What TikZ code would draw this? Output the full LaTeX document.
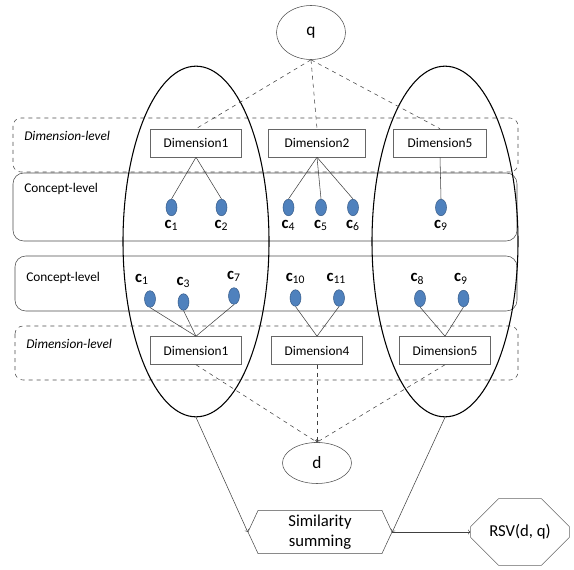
\documentclass[tikz,border=0pt]{standalone}
\usepackage{fontspec}
\setmainfont{Carlito}
\usetikzlibrary{shapes.geometric,shapes.misc,shapes.symbols}

\definecolor{conceptblue}{RGB}{79,129,189}
\definecolor{conceptedge}{RGB}{56,93,138}

\begin{document}
\begin{tikzpicture}[x=0.75pt, y=-0.75pt,
        font=\fontsize{10}{12}\selectfont,
        dimbox/.style = {draw=black!60, minimum width=68pt, minimum height=21pt, inner sep=2pt},
        concept/.style = {ellipse, draw=conceptedge, fill=conceptblue, minimum width=8.25pt, minimum height=12.4pt, inner sep=0pt},
        clab/.style = {font=\fontsize{12.5}{14}\selectfont, inner sep=1pt},
        docq/.style = {ellipse, draw=black!70, minimum width=51.75pt, minimum height=40.5pt, font=\fontsize{13}{15}\selectfont},
        bigset/.style = {ellipse, draw, thick, minimum width=109.5pt, minimum height=263pt},
        level/.style = {anchor=west, inner sep=0pt},
        link/.style = {black!75},
        match/.style = {black!75, dashed}]

    \useasboundingbox (0,0) rectangle (574,570);

    % Level frames
    \draw[black!70, dashed, rounded corners=6pt] (13,118) rectangle (518,172);
    \draw[black!70, rounded corners=8pt] (13,173) rectangle (517,241);
    \draw[black!70, rounded corners=8pt] (15,256) rectangle (517,311);
    \draw[black!70, dashed, rounded corners=6pt] (15,326) rectangle (518,380);

    \node[level] (lvlA) at (24,136) {\textit{Dimension-level}};
    \node[level] (lvlB) at (24,189) {Concept-level};
    \node[level] (lvlC) at (26,278) {Concept-level};
    \node[level] (lvlD) at (26,344) {\textit{Dimension-level}};

    % Query and document
    \node[docq] (q) at (311,32.5) {q};
    \node[docq, minimum height=30.75pt] (d) at (317,463) {d};

    % Dimensions of q
    \node[dimbox] (qdA) at (196,143) {Dimension1};
    \node[dimbox, minimum width=73pt] (qdB) at (317,143) {Dimension2};
    \node[dimbox, minimum width=70pt] (qdC) at (440,143) {Dimension5};

    % Concepts of q
    \node[concept, label={[clab, label distance=2pt]below:{\bfseries c}\textsubscript{1}}] (qc1) at (171.5,207.5) {};
    \node[concept, label={[clab, label distance=2pt]below:{\bfseries c}\textsubscript{2}}] (qc2) at (221.5,207.5) {};
    \node[concept, label={[clab, label distance=2pt]below:{\bfseries c}\textsubscript{4}}] (qc4) at (288.5,207.5) {};
    \node[concept, label={[clab, label distance=2pt]below:{\bfseries c}\textsubscript{5}}] (qc5) at (321,207.5) {};
    \node[concept, label={[clab, label distance=2pt]below:{\bfseries c}\textsubscript{6}}] (qc6) at (353,207.5) {};
    \node[concept, label={[clab, label distance=2pt]below:{\bfseries c}\textsubscript{9}}] (qc9) at (441,207.5) {};

    % Concepts of d
    \node[concept, label={[clab, label distance=3pt, xshift=-6pt]above:{\bfseries c}\textsubscript{1}}] (dc1) at (150,299) {};
    \node[concept, label={[clab, label distance=3pt]above:{\bfseries c}\textsubscript{3}}] (dc3) at (183.5,302) {};
    \node[concept, label={[clab, label distance=3pt]above:{\bfseries c}\textsubscript{7}}] (dc7) at (234,296) {};
    \node[concept, label={[clab, label distance=3pt]above:{\bfseries c}\textsubscript{10}}] (dc10) at (295.5,298) {};
    \node[concept, label={[clab, label distance=3pt, xshift=-2pt]above:{\bfseries c}\textsubscript{11}}] (dc11) at (339,298) {};
    \node[concept, label={[clab, label distance=3pt, xshift=-2pt]above:{\bfseries c}\textsubscript{8}}] (dc8) at (420,298.5) {};
    \node[concept, label={[clab, label distance=3pt, xshift=-2pt]above:{\bfseries c}\textsubscript{9}}] (dc9) at (463.5,298.5) {};

    % Dimensions of d
    \node[dimbox] (ddA) at (196,350.5) {Dimension1};
    \node[dimbox] (ddB) at (317,350.5) {Dimension4};
    \node[dimbox] (ddC) at (445,350.5) {Dimension5};

    % Matching dimension groups
    \node[bigset] (setA) at (196,241.5) {};
    \node[bigset] (setB) at (445,241.5) {};

    % Summing and score
    \node[signal, signal to=west and east, signal pointer angle=130, draw=black!70,
          minimum width=108pt, minimum height=31.5pt, align=center,
          font=\fontsize{12.5}{15}\selectfont] (sum) at (320,532) {Similarity\\summing};
    \node[chamfered rectangle, chamfered rectangle xsep=16pt, chamfered rectangle ysep=12pt,
          draw=black!60, minimum width=74pt, minimum height=50pt,
          font=\fontsize{12.5}{15}\selectfont] (rsv) at (520,532) {RSV(d, q)};

    % Links
    \draw[match] (q.south) -- (qdA.north);
    \draw[match] (q.south) -- (qdB.north);
    \draw[match] (q.south) -- (qdC.north);

    \draw[link] (qdA.south) -- (qc1.north);
    \draw[link] (qdA.south) -- (qc2.north);
    \draw[link] (qdB.south) -- (qc4.north);
    \draw[link] (qdB.south) -- (qc5.north);
    \draw[link] (qdB.south) -- (qc6.north);
    \draw[link] (qdC.south) -- (qc9.north);

    \draw[link] (dc1.south) -- (ddA.north);
    \draw[link] (dc3.south) -- (ddA.north);
    \draw[link] (dc7.south) -- (ddA.north);
    \draw[link] (dc10.south) -- (ddB.north);
    \draw[link] (dc11.south) -- (ddB.north);
    \draw[link] (dc8.south) -- (ddC.north);
    \draw[link] (dc9.south) -- (ddC.north);

    \draw[match, ->] (ddA.south) -- (d.north);
    \draw[match, ->] (ddB.south) -- (d.north);
    \draw[match, ->] (ddC.south) -- (d.north);

    \draw[link, ->] (setA.south) -- (sum.west);
    \draw[link, ->] (setB.south) -- (sum.east);
    \draw[link, ->] (sum.east) -- (rsv.west);

\end{tikzpicture}
\end{document}
